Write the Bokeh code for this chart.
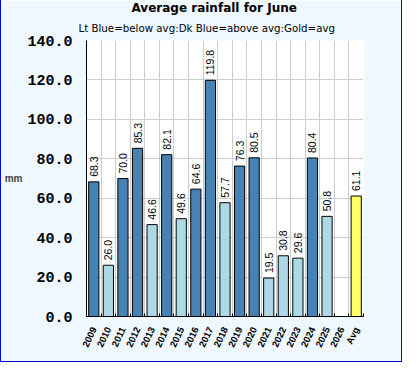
import math
from bokeh.plotting import figure
from bokeh.models import (ColumnDataSource, Range1d, FixedTicker,
                          Title, PrintfTickFormatter)
from bokeh.core.properties import value
from bokeh.embed import file_html
from bokeh.resources import INLINE

# ---- data ----
categories = ["2009", "2010", "2011", "2012", "2013", "2014", "2015", "2016",
              "2017", "2018", "2019", "2020", "2021", "2022", "2023", "2024",
              "2025", "2026", "Avg"]
rainfall = [68.3, 26.0, 70.0, 85.3, 46.6, 82.1, 49.6, 64.6, 119.8, 57.7,
            76.3, 80.5, 19.5, 30.8, 29.6, 80.4, 50.8, None, 61.1]
average = 61.1
y_ticks = [0, 20, 40, 60, 80, 100, 120, 140]

DARK = "#4682b4"
LIGHT = "#add8e6"
GOLD = "#ffff66"
BG = "#f0f8ff"

n = len(categories)
xs, tops, cols, labs = [], [], [], []
for i, (c, v) in enumerate(zip(categories, rainfall)):
    if v is None:
        continue
    xs.append(i + 0.5)
    tops.append(v)
    labs.append(f"{v:.1f}")
    if c == "Avg":
        cols.append(GOLD)
    elif v > average:
        cols.append(DARK)
    else:
        cols.append(LIGHT)
src = ColumnDataSource(dict(x=xs, top=tops, color=cols, label=labs))

p = figure(width=402, height=362, x_range=Range1d(0, n), y_range=Range1d(0, 140),
           output_backend="svg", toolbar_location=None,
           background_fill_color="white", border_fill_color=BG,
           outline_line_color=None,
           min_border_left=77, min_border_right=40, min_border_top=0,
           min_border_bottom=46)
p.title.visible = False
p.styles = {"border-left": "1px solid #0000ee", "border-right": "1px solid #0000ee",
            "border-bottom": "1px solid #0000cc"}

sub = Title(text="Lt Blue=below avg:Dk Blue=above avg:Gold=avg", align="left",
            text_font="DejaVu Sans", text_font_size="10.25px", text_font_style="normal",
            text_color="black", standoff=13, offset=-8)
main = Title(text="Average rainfall for June", align="left",
             text_font="DejaVu Sans", text_font_size="12px", text_font_style="bold",
             text_color="black", standoff=-3, offset=45)
p.add_layout(sub, "above")
p.add_layout(main, "above")

# y axis
p.yaxis.ticker = FixedTicker(ticks=y_ticks)
p.yaxis.formatter = PrintfTickFormatter(format="%.1f")
p.yaxis.major_label_text_font = "Liberation Mono"
p.yaxis.major_label_text_font_style = "bold"
p.yaxis.major_label_text_font_size = "15px"
p.yaxis.major_label_text_color = "black"
p.yaxis.major_label_standoff = 8
p.yaxis.major_tick_line_color = None
p.yaxis.minor_tick_line_color = None
p.yaxis.axis_line_color = "black"
p.yaxis.axis_label = "mm"
p.yaxis.axis_label_orientation = "horizontal"
p.yaxis.axis_label_text_font = "Liberation Sans"
p.yaxis.axis_label_text_font_style = "bold"
p.yaxis.axis_label_text_font_size = "10px"
p.yaxis.axis_label_standoff = 2
p.ygrid.grid_line_color = "#cccccc"

# x axis: labels at category centres, small inward ticks at boundaries
bounds = list(range(n + 1))
centers = [i + 0.5 for i in range(n)]
xa = p.xaxis[0]
xa.ticker = FixedTicker(ticks=centers, minor_ticks=bounds)
xa.major_label_overrides = {c: t for c, t in zip(centers, categories)}
xa.major_label_orientation = 1.13
xa.major_label_text_font = "Liberation Sans"
xa.major_label_text_font_style = "bold"
xa.major_label_text_font_size = "9.5px"
xa.major_label_text_color = "black"
xa.major_label_standoff = 5
xa.major_tick_line_color = None
xa.minor_tick_in = 3
xa.minor_tick_out = 0
xa.minor_tick_line_color = "black"
xa.axis_line_color = "black"
p.xgrid.ticker = FixedTicker(ticks=bounds[:-1])
p.xgrid.grid_line_color = "#cccccc"

p.vbar(x="x", top="top", width=0.7, fill_color="color", line_color="black",
       line_width=1, source=src)
p.text(x="x", y="top", text="label", angle=math.pi / 2, text_align="left",
       text_baseline="middle", y_offset=-5, text_font=value("Liberation Sans"),
       text_font_size="10.5px", text_color="black", source=src)

open("out.html", "w").write(file_html(p, INLINE))
